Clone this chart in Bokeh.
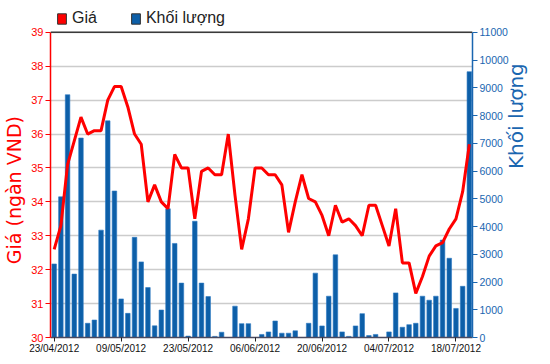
import math
from bokeh.plotting import figure
from bokeh.models import (Range1d, LinearAxis, FixedTicker, Span, Legend, LegendItem,
                          ColumnDataSource)
from bokeh.embed import file_html
from bokeh.resources import INLINE

# ---- data (trading days 23/04/2012 .. 20/07/2012) ----
dates = ["23/04/2012", "24/04/2012", "25/04/2012", "26/04/2012", "27/04/2012",
         "02/05/2012", "03/05/2012", "04/05/2012", "07/05/2012", "08/05/2012",
         "09/05/2012", "10/05/2012", "11/05/2012", "14/05/2012", "15/05/2012",
         "16/05/2012", "17/05/2012", "18/05/2012", "21/05/2012", "22/05/2012",
         "23/05/2012", "24/05/2012", "25/05/2012", "28/05/2012", "29/05/2012",
         "30/05/2012", "31/05/2012", "01/06/2012", "04/06/2012", "05/06/2012",
         "06/06/2012", "07/06/2012", "08/06/2012", "11/06/2012", "12/06/2012",
         "13/06/2012", "14/06/2012", "15/06/2012", "18/06/2012", "19/06/2012",
         "20/06/2012", "21/06/2012", "22/06/2012", "25/06/2012", "26/06/2012",
         "27/06/2012", "28/06/2012", "29/06/2012", "02/07/2012", "03/07/2012",
         "04/07/2012", "05/07/2012", "06/07/2012", "09/07/2012", "10/07/2012",
         "11/07/2012", "12/07/2012", "13/07/2012", "16/07/2012", "17/07/2012",
         "18/07/2012", "19/07/2012", "20/07/2012"]

price = [32.6, 33.3, 35.1, 35.8, 36.5, 36.0, 36.1, 36.1, 37.0, 37.4,
         37.4, 36.8, 36.0, 35.7, 34.0, 34.5, 34.0, 33.8, 35.4, 35.0,
         35.0, 33.5, 34.9, 35.0, 34.8, 34.8, 36.0, 34.2, 32.6, 33.5,
         35.0, 35.0, 34.8, 34.8, 34.5, 33.1, 34.0, 34.8, 34.1, 34.0,
         33.6, 33.0, 33.9, 33.4, 33.5, 33.3, 33.0, 33.9, 33.9, 33.3,
         32.7, 33.8, 32.2, 32.2, 31.3, 31.8, 32.4, 32.7, 32.8, 33.2,
         33.5, 34.3, 35.7]

volume = [2650, 5070, 8750, 2285, 7190, 512, 630, 3870, 7810, 5280,
          1390, 870, 3610, 2725, 1800, 420, 990, 4640, 3390, 1960,
          50, 4190, 1960, 1475, 40, 190, 0, 1130, 500, 500,
          0, 110, 200, 595, 155, 155, 240, 0, 512, 2320,
          417, 1488, 2980, 202, 40, 417, 860, 70, 110, 0,
          202, 1607, 369, 464, 512, 1488, 1345, 1488, 3510, 2856,
          1047, 1845, 9580]

price_ticks = [30, 31, 32, 33, 34, 35, 36, 37, 38, 39]
volume_ticks = [0, 1000, 2000, 3000, 4000, 5000, 6000, 7000, 8000, 9000, 10000, 11000]
date_tick_idx = [0, 10, 20, 30, 40, 50, 60]
series_names = ["Giá", "Khối lượng"]
y_title_left = "Giá (ngàn VND)"
y_title_right = "Khối lượng"

RED = "#ff0000"
BLUE = "#0d5fa8"
AXBLUE = "#1a66b0"

# layout geometry (pixels)
FIG_W, FIG_H = 542, 356
TOP_GAP = 32          # band above the 39 / 11000 line (legend lives here)
PLOT_H = 307          # height of the 30..39 band
NB = "\u00a0" * 7     # keeps rotated titles centred on the 30..39 band

p_lo, p_hi = price_ticks[0], price_ticks[-1]
v_lo, v_hi = volume_ticks[0], volume_ticks[-1]
p_top = p_hi + (p_hi - p_lo) * TOP_GAP / PLOT_H
v_top = v_hi + (v_hi - v_lo) * TOP_GAP / PLOT_H

idx = list(range(len(dates)))
src = ColumnDataSource(dict(x=idx, price=price, volume=volume))

p = figure(width=FIG_W, height=FIG_H, output_backend="svg", toolbar_location=None,
           x_range=Range1d(-0.55, len(dates) - 0.53), y_range=Range1d(p_lo, p_top),
           min_border_left=47, min_border_right=64, min_border_top=0,
           min_border_bottom=FIG_H - TOP_GAP - PLOT_H, background_fill_color="white",
           border_fill_color="white", outline_line_color=None)

p.extra_y_ranges = {"vol": Range1d(v_lo, v_top)}

# volume bars
bars = p.vbar(x="x", top="volume", bottom=0, width=0.68, source=src,
              fill_color=BLUE, line_color="#2b78c2", line_width=0.6,
              y_range_name="vol")
# price line
line = p.line(x="x", y="price", source=src, line_color=RED, line_width=3)

# legend swatches (no visible data)
nan_src = ColumnDataSource(dict(x=[float("nan")], top=[float("nan")]))
leg_red = p.vbar(x="x", top="top", width=0.5, source=nan_src,
                 fill_color=RED, line_color="#333333", line_width=1)
leg_blue = p.vbar(x="x", top="top", width=0.5, source=nan_src,
                  fill_color=BLUE, line_color="#333333", line_width=1)

# top border line
p.add_layout(Span(location=p_hi, dimension="width", line_color="#3a3a3a", line_width=1.5))

# grid
p.xgrid.visible = False
p.ygrid.grid_line_color = "#cccccc"
p.ygrid.grid_line_width = 1.5
p.ygrid.ticker = FixedTicker(ticks=price_ticks)

# left axis
ya = p.yaxis[0]
ya.ticker = FixedTicker(ticks=price_ticks)
ya.bounds = (p_lo, p_hi)
ya.axis_line_color = RED
ya.axis_line_width = 1.5
ya.major_tick_line_color = RED
ya.major_tick_out = 5
ya.major_tick_in = 0
ya.minor_tick_line_color = None
ya.major_label_standoff = 2
ya.major_label_text_color = RED
ya.major_label_text_font = "Liberation Sans"
ya.major_label_text_font_size = "11px"
ya.axis_label = y_title_left + NB
ya.axis_label_text_color = RED
ya.axis_label_text_font = "DejaVu Sans"
ya.axis_label_text_font_size = "19px"
ya.axis_label_text_font_style = "normal"
ya.axis_label_standoff = 3

# right axis
ra = LinearAxis(y_range_name="vol", ticker=FixedTicker(ticks=volume_ticks))
ra.bounds = (v_lo, v_hi)
ra.axis_line_color = AXBLUE
ra.axis_line_width = 1.5
ra.major_tick_line_color = AXBLUE
ra.major_tick_out = 5
ra.major_tick_in = 0
ra.minor_tick_line_color = None
ra.major_label_standoff = 2
ra.major_label_text_color = AXBLUE
ra.major_label_text_font = "Liberation Sans"
ra.major_label_text_font_size = "10.5px"
ra.axis_label = y_title_right + NB
ra.axis_label_orientation = math.pi / 2
ra.axis_label_text_color = AXBLUE
ra.axis_label_text_font = "DejaVu Sans"
ra.axis_label_text_font_size = "20px"
ra.axis_label_text_font_style = "normal"
ra.axis_label_standoff = 4
p.add_layout(ra, "right")

# bottom axis
xa = p.xaxis[0]
xa.ticker = FixedTicker(ticks=date_tick_idx)
xa.major_label_overrides = {i: dates[i] for i in date_tick_idx}
xa.axis_line_color = "#4a4a60"
xa.axis_line_width = 1.5
xa.major_tick_line_color = "#222222"
xa.major_tick_out = 4
xa.major_tick_in = 0
xa.minor_tick_line_color = None
xa.major_label_standoff = 1
xa.major_label_text_color = "#111111"
xa.major_label_text_font = "Liberation Sans"
xa.major_label_text_font_size = "10px"

# legend (inside the frame, in the band above the 39 line)
legend = Legend(items=[LegendItem(label=series_names[0], renderers=[leg_red]),
                       LegendItem(label=series_names[1], renderers=[leg_blue])],
                orientation="horizontal", location=(6, PLOT_H + 3),
                glyph_width=11, glyph_height=13, label_standoff=5, spacing=33,
                padding=0, margin=0, border_line_color=None,
                background_fill_alpha=0,
                label_text_font="Liberation Sans", label_text_font_size="16px",
                label_text_color="#222222")
p.add_layout(legend, "center")

open("out.html", "w").write(file_html(p, INLINE))
